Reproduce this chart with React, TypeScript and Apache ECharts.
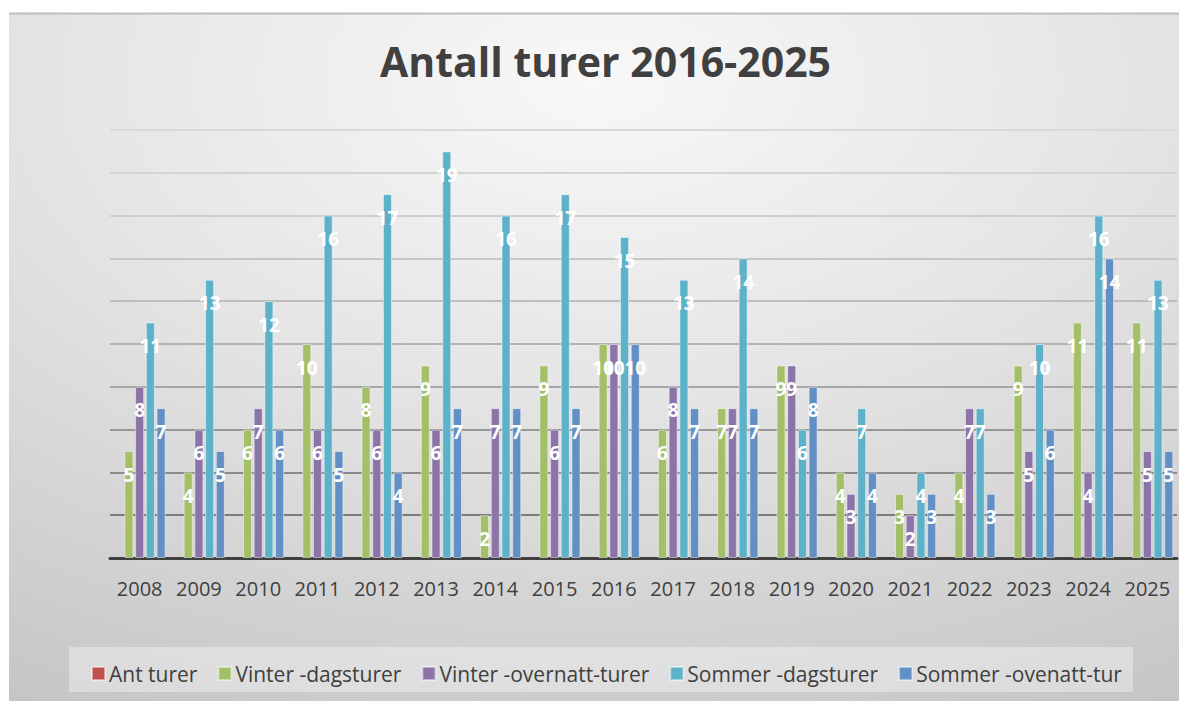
import React, { useEffect, useRef } from "react";
import * as echarts from "echarts";

const years = ["2008","2009","2010","2011","2012","2013","2014","2015","2016","2017","2018","2019","2020","2021","2022","2023","2024","2025"];
const antTurer: (number | null)[] = years.map(() => null);
const vinterDag = [5, 4, 6, 10, 8, 9, 2, 9, 10, 6, 7, 9, 4, 3, 4, 9, 11, 11];
const vinterOver = [8, 6, 7, 6, 6, 6, 7, 6, 10, 8, 7, 9, 3, 2, 7, 5, 4, 5];
const sommerDag = [11, 13, 12, 16, 17, 19, 16, 17, 15, 13, 14, 6, 7, 4, 7, 10, 16, 13];
const sommerOver = [7, 5, 6, 5, 4, 7, 7, 7, 10, 7, 7, 8, 4, 3, 3, 6, 14, 5];

const seriesNames = ["Ant turer", "Vinter -dagsturer", "Vinter -overnatt-turer", "Sommer -dagsturer", "Sommer -ovenatt-tur"];
const seriesColors = ["#c0504d", "#a3bf68", "#8d74a8", "#5db2ca", "#628fc4"];
const seriesData = [antTurer, vinterDag, vinterOver, sommerDag, sommerOver];

const FONT = "'Open Sans', 'Noto Sans', sans-serif";

export default function App() {
  const ref = useRef<HTMLDivElement>(null);
  useEffect(() => {
    document.body.style.margin = "0";
    const chart = echarts.init(ref.current!, null, { renderer: "svg" });
    chart.setOption({
      animation: false,
      backgroundColor: "#ffffff",
      graphic: [
        {
          type: "rect",
          z: -10,
          shape: { x: 9, y: 13, width: 1170, height: 688 },
          style: {
            fill: {
              type: "radial",
              x: 0.5,
              y: 0.1,
              r: 1.05,
              colorStops: [
                { offset: 0, color: "#f8f8f8" },
                { offset: 0.45, color: "#e4e4e4" },
                { offset: 1, color: "#c4c4c4" },
              ],
            },
          },
        },
        {
          type: "line",
          z: -9,
          shape: { x1: 9, y1: 13.5, x2: 1179, y2: 13.5 },
          style: { stroke: "#bdbdbd", lineWidth: 2 },
        },
        {
          type: "rect",
          z: -8,
          shape: { x: 69, y: 647, width: 1064, height: 45 },
          style: { fill: "rgba(255,255,255,0.35)" },
        },
      ],
      title: {
        text: "Antall turer 2016-2025",
        left: 375,
        top: 35,
        textStyle: { fontFamily: FONT, fontSize: 41, fontWeight: "bold", color: "#404040" },
      },
      legend: {
        data: seriesNames,
        left: 86,
        top: 658,
        itemWidth: 13,
        itemHeight: 13,
        itemGap: 20,
        icon: "rect",
        textStyle: { fontFamily: FONT, fontSize: 21, color: "#404040", padding: [0, 0, 0, -1] },
      },
      grid: { left: 110, right: 2, top: 130, bottom: 143, containLabel: false },
      xAxis: {
        type: "category",
        data: years,
        axisLine: { lineStyle: { color: "#404040", width: 3 } },
        axisTick: { show: false },
        axisLabel: { fontFamily: FONT, fontSize: 20, color: "#404040", margin: 20, interval: 0 },
      },
      yAxis: {
        type: "value",
        min: 0,
        max: 20,
        interval: 2,
        axisLabel: { show: false },
        axisLine: { show: false },
        axisTick: { show: false },
        splitLine: {
          lineStyle: {
            width: 2,
            color: ["#6e6e6e", "#7c7c7c", "#8a8a8a", "#989898", "#a6a6a6", "#b2b2b2", "#bdbdbd", "#c6c6c6", "#cecece", "#d4d4d4", "#d9d9d9"],
          },
        },
      },
      series: seriesNames.map((name, i) => ({
        name,
        type: "bar",
        data: seriesData[i],
        barWidth: 9,
        barGap: "19%",
        itemStyle: { color: seriesColors[i], borderColor: "rgba(255,255,255,0.45)", borderWidth: 1 },
        label: {
          show: true,
          position: "insideTop",
          distance: 14,
          color: "#ffffff",
          fontFamily: FONT,
          fontSize: 19,
          fontWeight: "bold",
        },
      })),
    });
    return () => chart.dispose();
  }, []);
  return <div ref={ref} style={{ width: 1179, height: 701 }} />;
}
